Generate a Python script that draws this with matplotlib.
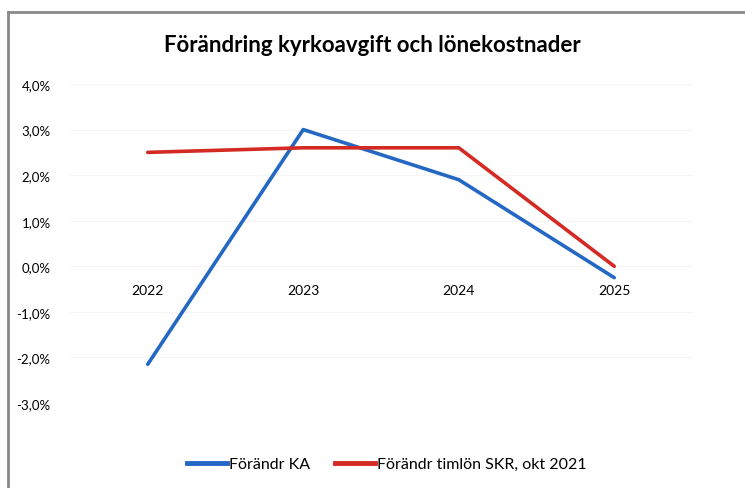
import matplotlib.pyplot as plt
from matplotlib.lines import Line2D
from matplotlib.ticker import FuncFormatter

plt.rcParams['font.family'] = ['Lato', 'DejaVu Sans']

years = ['2022', '2023', '2024', '2025']
ka = [-2.15, 3.0, 1.9, -0.25]
timlon = [2.5, 2.6, 2.6, 0.0]
yticks = [4, 3, 2, 1, 0, -1, -2, -3]

fig = plt.figure(figsize=(7.45, 4.89), dpi=100)
ax = fig.add_axes([70 / 745, 1 - 404 / 489, 622 / 745, 319 / 489])

x = range(len(years))
ax.plot(x, ka, color='#2468c4', lw=2.6, solid_capstyle='round', label='Förändr KA')
ax.plot(x, timlon, color='#d42a24', lw=2.6, solid_capstyle='round',
        label='Förändr timlön SKR, okt 2021')

ax.set_xlim(-0.5, 3.5)
ax.set_ylim(-3, 4)
ax.set_yticks(yticks)
ax.yaxis.set_major_formatter(FuncFormatter(lambda v, p: f'{v:.1f}%'.replace('.', ',')))
ax.tick_params(axis='y', length=0, labelsize=9.5, pad=14)
ax.set_xticks([])
for i, yr in enumerate(years):
    ax.text(i, -0.38, yr, ha='center', va='top', fontsize=10)

ax.grid(axis='y', color='#f5f5f5', lw=0.8)
for s in ax.spines.values():
    s.set_visible(False)

fig.text(0.5, 1 - 45 / 489, 'Förändring kyrkoavgift och lönekostnader',
         ha='center', va='center', fontsize=16, fontweight='bold')

handles = [Line2D([], [], color='#2468c4', lw=3.5),
           Line2D([], [], color='#d42a24', lw=3.5)]
fig.legend(handles, ['Förändr KA', 'Förändr timlön SKR, okt 2021'],
           loc='center', bbox_to_anchor=(0.519, 1 - 465 / 489), ncol=2,
           frameon=False, fontsize=11.5, handlelength=2.5, handletextpad=0.1,
           columnspacing=1.6)

# chart frame (left and top edges visible)
fig.add_artist(Line2D([8 / 745, 8 / 745], [0, 1 - 13 / 489], color='#8a8a8a', lw=2))
fig.add_artist(Line2D([8 / 745, 1], [1 - 13 / 489, 1 - 13 / 489], color='#8a8a8a', lw=2))

fig.savefig('out.png', dpi=100)
